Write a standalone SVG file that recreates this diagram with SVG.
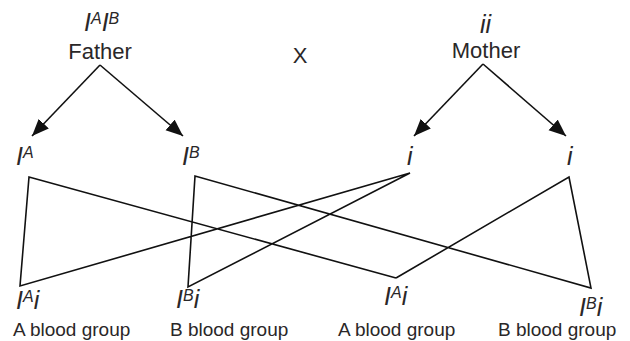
<svg xmlns="http://www.w3.org/2000/svg" width="630" height="341" viewBox="0 0 630 341">
<style>
.t{font-family:"Liberation Sans",Arial,sans-serif;fill:#2a2728}
.lbl{font-size:22px}
.g{font-size:25px;font-style:italic}
.s{font-size:16px;font-style:italic}
.bg{font-size:19px}
.ln{stroke:#111;stroke-width:1.6;fill:none}
</style>
<defs>
<marker id="ah" markerUnits="userSpaceOnUse" markerWidth="18" markerHeight="15" refX="17" refY="7" orient="auto">
<path d="M0,0 L17,7 L0,14 Z" fill="#111"/>
</marker>
</defs>
<rect width="630" height="341" fill="#fff"/>
<g id="father">
<text class="t g" x="84" y="31">I<tspan class="s" dy="-7">A</tspan><tspan dy="7">I</tspan><tspan class="s" dy="-7">B</tspan></text>
<text class="t lbl" x="100" y="59" text-anchor="middle">Father</text>
</g>
<g id="cross"><text class="t lbl" x="300" y="63" text-anchor="middle">X</text></g>
<g id="mother">
<text class="t g" x="480" y="33">ii</text>
<text class="t lbl" x="486" y="58" text-anchor="middle">Mother</text>
</g>
<g id="gIA"><text class="t g" x="16" y="165">I<tspan class="s" dy="-7">A</tspan></text></g>
<g id="gIB"><text class="t g" x="182" y="165">I<tspan class="s" dy="-7">B</tspan></text></g>
<g id="gi1"><text class="t g" x="407" y="165">i</text></g>
<g id="gi2"><text class="t g" x="567" y="165">i</text></g>
<g id="c1"><text class="t g" x="16" y="309">I<tspan class="s" dy="-7">A</tspan><tspan dy="7">i</tspan></text><text class="t bg" x="13" y="336">A blood group</text></g>
<g id="c2"><text class="t g" x="176" y="308">I<tspan class="s" dy="-7">B</tspan><tspan dy="7">i</tspan></text><text class="t bg" x="170" y="336">B blood group</text></g>
<g id="c3"><text class="t g" x="384" y="305">I<tspan class="s" dy="-7">A</tspan><tspan dy="7">i</tspan></text><text class="t bg" x="338" y="336">A blood group</text></g>
<g id="c4"><text class="t g" x="579" y="316">I<tspan class="s" dy="-7">B</tspan><tspan dy="7">i</tspan></text><text class="t bg" x="498" y="336">B blood group</text></g>
<g id="connectors">
<line class="ln" x1="100" y1="65" x2="32" y2="136" marker-end="url(#ah)"/>
<line class="ln" x1="100" y1="65" x2="183" y2="136" marker-end="url(#ah)"/>
<line class="ln" x1="483" y1="64" x2="414" y2="136" marker-end="url(#ah)"/>
<line class="ln" x1="483" y1="64" x2="566" y2="136" marker-end="url(#ah)"/>
<polyline class="ln" points="396,278 29,177 20,286 410,173 188,287 195,176 591,288 569,177 396,278"/>
</g>
</svg>
